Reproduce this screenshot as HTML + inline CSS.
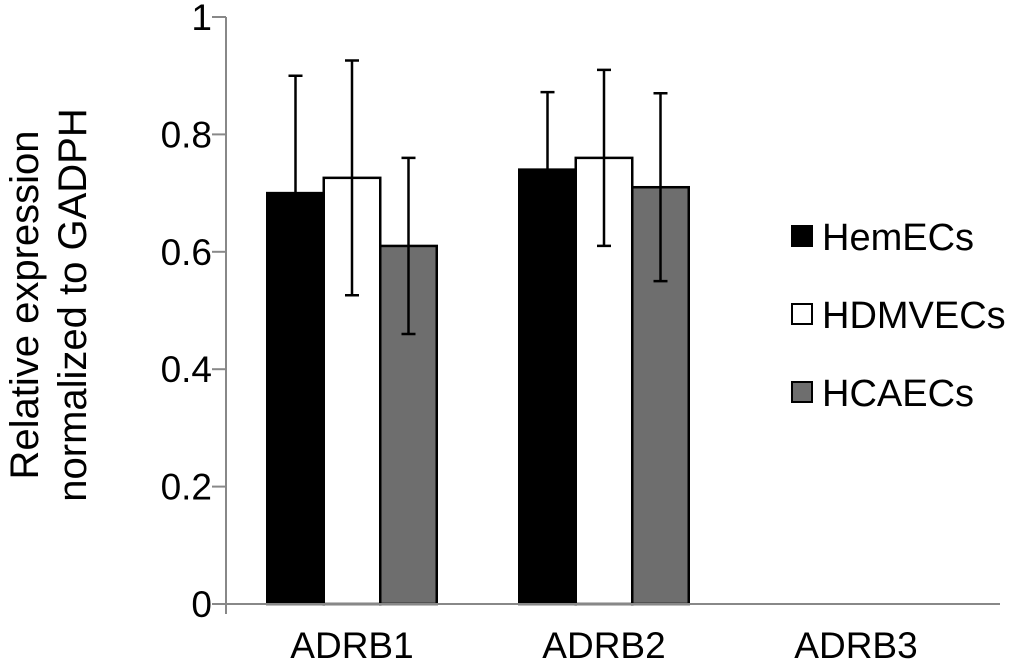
<!DOCTYPE html>
<html><head><meta charset="utf-8"><style>
body{margin:0;background:#fff;}
svg{display:block;font-family:"Liberation Sans",sans-serif;}
</style></head><body>
<svg id="chart" width="1020" height="665">
<g id="plot"></g>
</svg>
<script>
const categories=["ADRB1","ADRB2","ADRB3"];
const seriesNames=["HemECs","HDMVECs","HCAECs"];
const seriesFill=["#000","#fff","#6e6e6e"];
const hemECs=[0.70,0.74,0];
const hdmvecs=[0.726,0.76,0];
const hcaecs=[0.61,0.71,0];
const hemErr=[0.20,0.132,0];
const hdmErr=[0.20,0.15,0];
const hcaErr=[0.15,0.16,0];
const yTicks=[0,0.2,0.4,0.6,0.8,1];
const yTickLabels=["0","0.2","0.4","0.6","0.8","1"];
const values=[hemECs,hdmvecs,hcaecs];
const errs=[hemErr,hdmErr,hcaErr];
const NS="http://www.w3.org/2000/svg";
const g=document.getElementById('plot');
const x0=226,x1=982,y0=604,y1=17;
const yS=v=>y0-(y0-y1)*v;
const catW=(x1-x0)/3, barW=56.5;
const xC=i=>x0+catW*(i+0.5);
function mk(t,a){const e=document.createElementNS(NS,t);for(const k in a)e.setAttribute(k,a[k]);g.appendChild(e);return e;}
let e=mk('line',{x1:x0,y1:y1,x2:x0,y2:y0+10,stroke:'#888','stroke-width':2});


yTicks.forEach((t,i)=>{
 let l=mk('line',{x1:x0-14,x2:x0,y1:yS(t),y2:yS(t),stroke:'#888','stroke-width':2});
 
 
 let tx=mk('text',{x:x0-14,y:yS(t)+13,'text-anchor':'end','font-size':37,fill:'#000'});
 tx.textContent=yTickLabels[i];
 
 
});
values.forEach((s,si)=>{
 s.forEach((v,ci)=>{
  if(v<=0)return;
  const bx=xC(ci)-1.5*barW+si*barW;
  let r=mk('rect',{x:bx,y:yS(v),width:barW,height:y0-yS(v),fill:seriesFill[si],stroke:'#000','stroke-width':2.5});
  
  
  const cx=bx+barW/2, er=errs[si][ci];
  let eb=mk('path',{d:`M${cx-7},${yS(v+er)}H${cx+7}M${cx},${yS(v+er)}V${yS(v-er)}M${cx-7},${yS(v-er)}H${cx+7}`,stroke:'#000','stroke-width':2.5,fill:'none'});
  
  
 });
});
e=mk('line',{x1:x0-14,y1:y0,x2:1000,y2:y0,stroke:'#888','stroke-width':2});


categories.forEach((c,i)=>{
 let tx=mk('text',{x:xC(i),y:658,'text-anchor':'middle','font-size':37,fill:'#000'});
 tx.textContent=c;
 
 
});
let yt=mk('text',{transform:'translate(38,305) rotate(-90)','text-anchor':'middle','font-size':40,fill:'#000'});
yt.textContent='Relative expression';


let yt2=mk('text',{transform:'translate(86,305) rotate(-90)','text-anchor':'middle','font-size':40,fill:'#000'});
yt2.textContent='normalized to GADPH';


seriesNames.forEach((n,i)=>{
 const ly=237+i*78;
 let r=mk('rect',{x:792,y:ly-11,width:20,height:20,fill:seriesFill[i],stroke:'#000','stroke-width':2});
 
 
 let t=mk('text',{x:822,y:ly+13,'font-size':38,fill:'#000'});
 t.textContent=n;
 
 
});
</script>
</body></html>
